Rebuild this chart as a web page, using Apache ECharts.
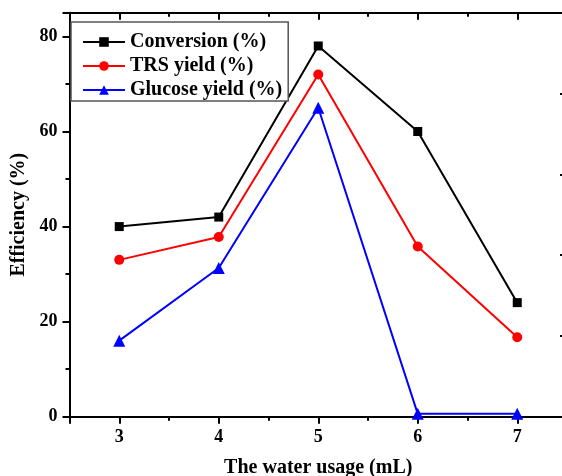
<!DOCTYPE html>
<html>
<head>
    <meta charset="utf-8">
    <title>Efficiency vs water usage</title>
    <script src="https://cdn.jsdelivr.net/npm/echarts@6/dist/echarts.min.js"></script>
</head>
<body style="margin:0">
<div id="chart" style="width: 562px; height: 476px;"></div>
<script>
    // data
    var waterUsage = [3, 4, 5, 6, 7];
    var conversion = [40, 42, 78, 60, 24];
    var trsYield = [33, 37.8, 72, 35.8, 16.7];
    var glucoseYield = [16, 31.3, 65, 0.6, 0.6];
    var yTicks = [0, 20, 40, 60, 80];

    var myChart = echarts.init(document.getElementById('chart'));
    var font = '"Liberation Serif", "Times New Roman", serif';

    function pairs(vals) {
        return waterUsage.map(function (x, i) { return [x, vals[i]]; });
    }

    // frame axis: black line, inward ticks, no labels
    function frameAxis(pos, extra) {
        var ax = {
            position: pos,
            axisLine: { show: true, onZero: false, lineStyle: { color: '#000', width: 2 } },
            axisTick: { show: true, inside: true, length: 7, lineStyle: { color: '#000', width: 2 } },
            minorTick: { show: true, splitNumber: 2, length: 4, lineStyle: { color: '#000', width: 2 } },
            axisLabel: { show: false },
            splitLine: { show: false }
        };
        return Object.assign(ax, extra);
    }

    var option = {
        animation: false,
        textStyle: { fontFamily: font },
        grid: { left: 69.5, top: 12.7, right: -5, bottom: 59.3, outerBoundsMode: 'none', containLabel: false },
        legend: {
            orient: 'vertical',
            left: 71,
            top: 22,
            backgroundColor: '#fff',
            borderColor: '#555',
            borderWidth: 1.5,
            borderRadius: 0,
            padding: [10, 6, 1, 11],
            itemGap: 4,
            itemWidth: 42,
            itemHeight: 12,
            textStyle: { fontFamily: font, fontSize: 20, fontWeight: 'bold', color: '#000' },
            data: ['Conversion (%)', 'TRS yield (%)', 'Glucose yield (%)']
        },
        xAxis: [
            frameAxis('bottom', {
                type: 'value',
                min: 2.5,
                max: 7.5,
                name: 'The water usage (mL)',
                nameLocation: 'middle',
                nameGap: 41,
                nameTextStyle: { fontFamily: font, fontSize: 20, fontWeight: 'bold', color: '#000' },
                axisTick: { show: true, inside: false, length: 7, lineStyle: { color: '#000', width: 2 } },
                minorTick: { show: true, splitNumber: 2, length: 4, lineStyle: { color: '#000', width: 2 } },
                axisLabel: {
                    show: true, margin: 12, fontFamily: font, fontSize: 18, fontWeight: 'bold', color: '#000',
                    formatter: function (v) { return waterUsage.indexOf(v) >= 0 ? String(v) : ''; }
                }
            }),
            frameAxis('top', { type: 'value', min: 2.5, max: 7.5 })
        ],
        yAxis: [
            frameAxis('left', {
                type: 'value',
                min: 0,
                max: 85,
                interval: 20,
                name: 'Efficiency (%)',
                nameLocation: 'middle',
                nameGap: 39,
                nameTextStyle: { fontFamily: font, fontSize: 20, fontWeight: 'bold', color: '#000' },
                axisTick: { show: true, inside: false, length: 7, lineStyle: { color: '#000', width: 2 } },
                minorTick: { show: true, splitNumber: 2, length: 4, lineStyle: { color: '#000', width: 2 } },
                axisLabel: {
                    show: true, margin: 12, fontFamily: font, fontSize: 18, fontWeight: 'bold', color: '#000',
                    formatter: function (v) { return yTicks.indexOf(v) >= 0 ? String(v) : ''; }
                }
            }),
            frameAxis('right', { type: 'value', min: 0, max: 5, interval: 1 })
        ],
        series: [
            {
                name: 'Conversion (%)', type: 'line', data: pairs(conversion),
                symbol: 'rect', symbolSize: 9,
                itemStyle: { color: '#000' }, lineStyle: { color: '#000', width: 2 }
            },
            {
                name: 'TRS yield (%)', type: 'line', data: pairs(trsYield),
                symbol: 'circle', symbolSize: 10,
                itemStyle: { color: '#ff0000' }, lineStyle: { color: '#ff0000', width: 2 }
            },
            {
                name: 'Glucose yield (%)', type: 'line', data: pairs(glucoseYield),
                symbol: 'triangle', symbolSize: 12,
                itemStyle: { color: '#0000ff' }, lineStyle: { color: '#0000ff', width: 2 }
            }
        ]
    };

    myChart.setOption(option);
</script>
</body>
</html>
